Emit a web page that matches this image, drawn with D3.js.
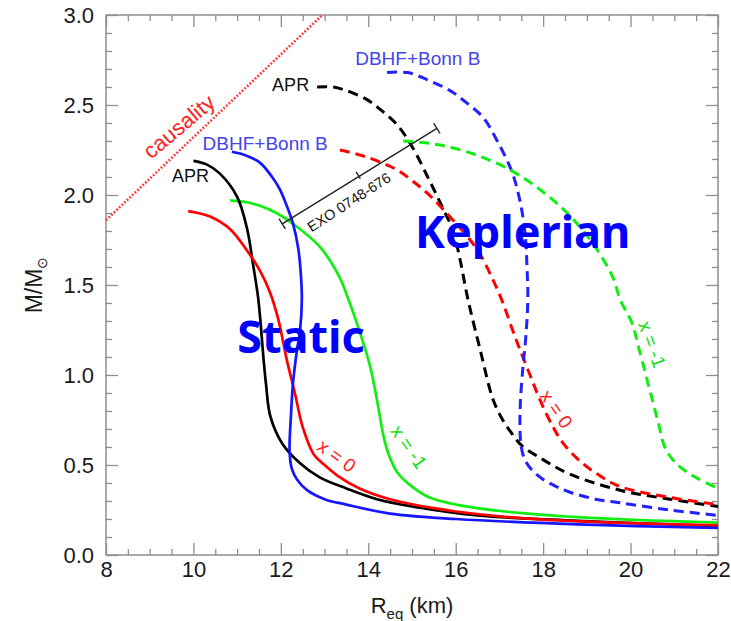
<!DOCTYPE html>
<html>
<head>
<meta charset="utf-8">
<script src="https://cdn.jsdelivr.net/npm/d3@7/dist/d3.min.js"></script>
<style>
  html, body { margin: 0; padding: 0; background: #fff; }
  svg { display: block; }
</style>
</head>
<body>
<svg id="chart" width="731" height="621"></svg>
<script>
// Mass–radius relations: static (solid) and Keplerian (dashed) sequences, [R_eq km, M/Msun]
const aprStatic = [[10.0,2.19],[10.3,2.17],[10.6,2.12],[11.0,1.99],[11.23,1.81],[11.36,1.62],[11.48,1.43],[11.55,1.25],[11.6,1.1],[11.66,0.95],[11.76,0.77],[12.03,0.62],[12.44,0.51],[12.9,0.43],[13.5,0.37],[14.2,0.31],[15.0,0.27],[16.5,0.22],[18.8,0.19],[22.0,0.16]];
const x0Static = [[9.88,1.91],[10.1,1.9],[10.38,1.88],[10.84,1.81],[11.23,1.69],[11.52,1.58],[11.75,1.46],[11.94,1.31],[12.14,1.08],[12.32,0.9],[12.5,0.71],[12.75,0.56],[13.0,0.5],[13.3,0.44],[13.8,0.37],[14.5,0.31],[15.5,0.26],[17.0,0.215],[19.0,0.185],[22.0,0.165]];
const dbhfStatic = [[10.88,2.24],[11.2,2.22],[11.52,2.18],[11.8,2.1],[11.98,2.03],[12.15,1.93],[12.28,1.84],[12.4,1.7],[12.46,1.55],[12.48,1.42],[12.44,1.25],[12.37,1.14],[12.28,0.96],[12.23,0.77],[12.2,0.58],[12.25,0.48],[12.37,0.42],[12.6,0.36],[13.0,0.31],[13.5,0.28],[14.5,0.23],[16.0,0.2],[18.8,0.17],[22.0,0.15]];
const x1Static = [[10.84,1.97],[11.2,1.96],[11.52,1.94],[11.9,1.9],[12.28,1.84],[12.9,1.71],[13.35,1.54],[13.5,1.45],[13.75,1.28],[14.04,1.05],[14.2,0.86],[14.35,0.66],[14.45,0.57],[14.66,0.46],[15.0,0.38],[15.4,0.32],[16.5,0.26],[18.8,0.21],[22.0,0.18]];

const aprKepler = [[12.83,2.6],[13.2,2.6],[13.5,2.58],[13.97,2.53],[14.3,2.47],[14.66,2.39],[15.0,2.27],[15.4,2.08],[15.7,1.93],[15.94,1.8],[16.1,1.64],[16.28,1.42],[16.56,1.14],[16.86,0.86],[17.1,0.74],[17.3,0.67],[17.5,0.61],[17.93,0.54],[18.6,0.45],[19.76,0.36],[20.9,0.31],[22.0,0.27]];
const x0Kepler = [[13.35,2.25],[13.7,2.23],[13.97,2.21],[14.3,2.18],[14.66,2.14],[15.0,2.08],[15.35,2.01],[15.94,1.86],[16.3,1.76],[16.56,1.67],[16.85,1.53],[17.08,1.4],[17.3,1.25],[17.47,1.14],[17.7,1.0],[17.93,0.86],[18.23,0.71],[18.46,0.62],[18.85,0.52],[19.3,0.44],[19.76,0.38],[20.9,0.32],[22.0,0.28]];
const dbhfKepler = [[14.43,2.68],[14.9,2.68],[15.35,2.64],[15.87,2.58],[16.26,2.51],[16.63,2.43],[16.95,2.3],[17.3,2.12],[17.5,1.93],[17.6,1.75],[17.63,1.6],[17.65,1.42],[17.6,1.2],[17.54,1.05],[17.48,0.85],[17.47,0.7],[17.5,0.6],[17.58,0.53],[17.75,0.47],[18.0,0.42],[18.3,0.38],[18.6,0.35],[19.2,0.31],[19.76,0.29],[20.9,0.25],[22.0,0.22]];
const x1Kepler = [[14.8,2.3],[15.3,2.29],[15.8,2.27],[16.5,2.22],[17.24,2.14],[17.93,2.03],[18.55,1.9],[19.14,1.73],[19.6,1.54],[19.76,1.42],[20.03,1.29],[20.2,1.14],[20.5,0.86],[20.65,0.72],[20.75,0.62],[20.9,0.55],[21.13,0.49],[21.5,0.43],[22.0,0.37]];

// causality limit and the EXO 0748-676 constraint segment
const causality = [[8.0,1.86],[12.95,3.0]];
const exoSegment = [[12.03,1.84],[15.57,2.37]];
const exoMidTick = [13.77,2.11];

// axis ticks
const xMajorTicks = [8, 10, 12, 14, 16, 18, 20, 22];
const yMajorTicks = [0, 0.5, 1.0, 1.5, 2.0, 2.5, 3.0];
const xTickLabels = ["8", "10", "12", "14", "16", "18", "20", "22"];
const yTickLabels = ["0.0", "0.5", "1.0", "1.5", "2.0", "2.5", "3.0"];

const W = 731, H = 621;
const margin = {left: 106, right: 13, top: 15, bottom: 66};
const x = d3.scaleLinear().domain([8, 22]).range([margin.left, W - margin.right]);
const y = d3.scaleLinear().domain([0, 3]).range([H - margin.bottom, margin.top]);

const svg = d3.select("#chart");
const frameColor = "#8e8e8e";
const labelFont = "'Liberation Sans', Arial, Helvetica, sans-serif";

const xMinor = d3.range(8, 22.001, 0.5).filter(v => !xMajorTicks.includes(v));
const yMinor = d3.range(0, 3.001, 0.1).map(v => +v.toFixed(1)).filter(v => !yMajorTicks.includes(v));

function styleAxis(g) {
  g.select(".domain").remove();
  g.selectAll(".tick line").attr("stroke", frameColor).attr("stroke-width", 1.3);
  g.selectAll("text").attr("font-family", labelFont).attr("font-size", 22).attr("fill", "#1a1a1a");
}

// bottom
svg.append("g").attr("transform", `translate(0,${y(0)})`)
  .call(d3.axisBottom(x).tickValues(xMajorTicks).tickFormat((d, i) => xTickLabels[i]).tickSize(-12).tickSizeOuter(0).tickPadding(6))
  .call(styleAxis);
svg.append("g").attr("transform", `translate(0,${y(0)})`)
  .call(d3.axisBottom(x).tickValues(xMinor).tickFormat("").tickSize(-6).tickSizeOuter(0))
  .call(styleAxis);
// top
svg.append("g").attr("transform", `translate(0,${y(3)})`)
  .call(d3.axisTop(x).tickValues(xMajorTicks).tickFormat("").tickSize(-12).tickSizeOuter(0))
  .call(styleAxis);
svg.append("g").attr("transform", `translate(0,${y(3)})`)
  .call(d3.axisTop(x).tickValues(xMinor).tickFormat("").tickSize(-6).tickSizeOuter(0))
  .call(styleAxis);
// left
svg.append("g").attr("transform", `translate(${x(8)},0)`)
  .call(d3.axisLeft(y).tickValues(yMajorTicks).tickFormat((d, i) => yTickLabels[i]).tickSize(-12).tickSizeOuter(0).tickPadding(12))
  .call(styleAxis);
svg.append("g").attr("transform", `translate(${x(8)},0)`)
  .call(d3.axisLeft(y).tickValues(yMinor).tickFormat("").tickSize(-6).tickSizeOuter(0))
  .call(styleAxis);
// right
svg.append("g").attr("transform", `translate(${x(22)},0)`)
  .call(d3.axisRight(y).tickValues(yMajorTicks).tickFormat("").tickSize(-12).tickSizeOuter(0))
  .call(styleAxis);
svg.append("g").attr("transform", `translate(${x(22)},0)`)
  .call(d3.axisRight(y).tickValues(yMinor).tickFormat("").tickSize(-6).tickSizeOuter(0))
  .call(styleAxis);

// frame
svg.append("rect")
  .attr("x", x(8)).attr("y", y(3))
  .attr("width", x(22) - x(8)).attr("height", y(0) - y(3))
  .attr("fill", "none").attr("stroke", frameColor).attr("stroke-width", 1.5);

const plot = svg.append("g");
const line = d3.line().x(d => x(d[0])).y(d => y(d[1])).curve(d3.curveCatmullRom.alpha(0.5));

// causality limit (dotted)
plot.append("path").attr("d", d3.line().x(d => x(d[0])).y(d => y(d[1]))(causality))
  .attr("fill", "none").attr("stroke", "#ff3838").attr("stroke-width", 2.6).attr("stroke-dasharray", "1.8,1.8");

const curves = [
  {data: aprKepler, color: "#000000", dashed: true},
  {data: x0Kepler, color: "#ff0000", dashed: true},
  {data: dbhfKepler, color: "#2222ff", dashed: true},
  {data: x1Kepler, color: "#11ee11", dashed: true},
  {data: x1Static, color: "#11ee11", dashed: false},
  {data: aprStatic, color: "#000000", dashed: false},
  {data: x0Static, color: "#ff0000", dashed: false},
  {data: dbhfStatic, color: "#1515ff", dashed: false}
];
curves.forEach(c => {
  plot.append("path").attr("d", line(c.data))
    .attr("fill", "none").attr("stroke", c.color)
    .attr("stroke-width", c.dashed ? 3 : 2.7)
    .attr("stroke-linecap", "butt")
    .attr("stroke-dasharray", c.dashed ? "10,6" : null);
});

// EXO 0748-676 segment with end caps and midpoint tick
const p0 = [x(exoSegment[0][0]), y(exoSegment[0][1])];
const p1 = [x(exoSegment[1][0]), y(exoSegment[1][1])];
const ang = Math.atan2(p1[1] - p0[1], p1[0] - p0[0]);
const nx = -Math.sin(ang), ny = Math.cos(ang);
const exoG = plot.append("g").attr("stroke", "#222").attr("stroke-width", 1.4).attr("fill", "none");
exoG.append("line").attr("x1", p0[0]).attr("y1", p0[1]).attr("x2", p1[0]).attr("y2", p1[1]);
[p0, p1].forEach(p => {
  exoG.append("line").attr("x1", p[0] - nx * 6).attr("y1", p[1] - ny * 6).attr("x2", p[0] + nx * 6).attr("y2", p[1] + ny * 6);
});
const pm = [x(exoMidTick[0]), y(exoMidTick[1])];
exoG.append("line").attr("x1", pm[0] - nx * 4).attr("y1", pm[1] - ny * 4).attr("x2", pm[0] + nx * 4).attr("y2", pm[1] + ny * 4);

// annotations
function label(text, R, M, opts) {
  return svg.append("text")
    .attr("transform", `translate(${x(R)},${y(M)}) rotate(${opts.rotate || 0})`)
    .attr("text-anchor", opts.anchor || "start")
    .attr("font-family", opts.family || labelFont)
    .attr("font-size", opts.size)
    .attr("font-weight", opts.weight || "normal")
    .attr("fill", opts.color)
    .attr("dominant-baseline", opts.baseline || "auto")
    .text(text);
}
label("causality", 9.67, 2.38, {rotate: -40, anchor: "middle", size: 22, color: "#ff2020", baseline: "central"});
label("APR", 9.51, 2.07, {size: 18, color: "#111"});
label("DBHF+Bonn B", 10.21, 2.25, {size: 19, color: "#4444ee"});
label("APR", 11.8, 2.58, {size: 18, color: "#111"});
label("DBHF+Bonn B", 13.7, 2.72, {size: 19, color: "#4444ee"});
label("EXO 0748-676", 13.56, 1.96, {rotate: -33, anchor: "middle", size: 14.5, color: "#111", baseline: "central"});
label("x = 0", 13.28, 0.55, {rotate: 36, anchor: "middle", size: 19, color: "#ff2020", baseline: "central"});
label("x = -1", 14.93, 0.6, {rotate: 55, anchor: "middle", size: 19, color: "#11dd11", baseline: "central"});
label("x = 0", 18.3, 0.81, {rotate: 55, anchor: "middle", size: 19, color: "#ff2020", baseline: "central"});
label("x = -1", 20.49, 1.17, {rotate: 70, anchor: "middle", size: 19, color: "#11dd11", baseline: "central"});

const bigFont = "'Noto Sans', 'Open Sans', sans-serif";
label("Keplerian", 15.07, 1.705, {size: 45, weight: "bold", color: "#0000ff", family: bigFont});
label("Static", 11.0, 1.125, {size: 45, weight: "bold", color: "#0000ff", family: bigFont});

// axis titles
svg.append("text")
  .attr("x", (x(8) + x(22)) / 2).attr("y", 613)
  .attr("text-anchor", "middle").attr("font-family", labelFont).attr("font-size", 22).attr("fill", "#1a1a1a")
  .call(t => {
    t.append("tspan").text("R");
    t.append("tspan").attr("font-size", 15).attr("dy", 6).text("eq");
    t.append("tspan").attr("dy", -6).text(" (km)");
  });
svg.append("text")
  .attr("transform", `translate(42,${(y(0) + y(3)) / 2}) rotate(-90)`)
  .attr("text-anchor", "middle").attr("font-family", labelFont).attr("font-size", 23).attr("fill", "#1a1a1a")
  .call(t => {
    t.append("tspan").text("M/M");
    t.append("tspan").attr("font-size", 14).attr("dy", 5).text("⊙");
  });
</script>
</body>
</html>
